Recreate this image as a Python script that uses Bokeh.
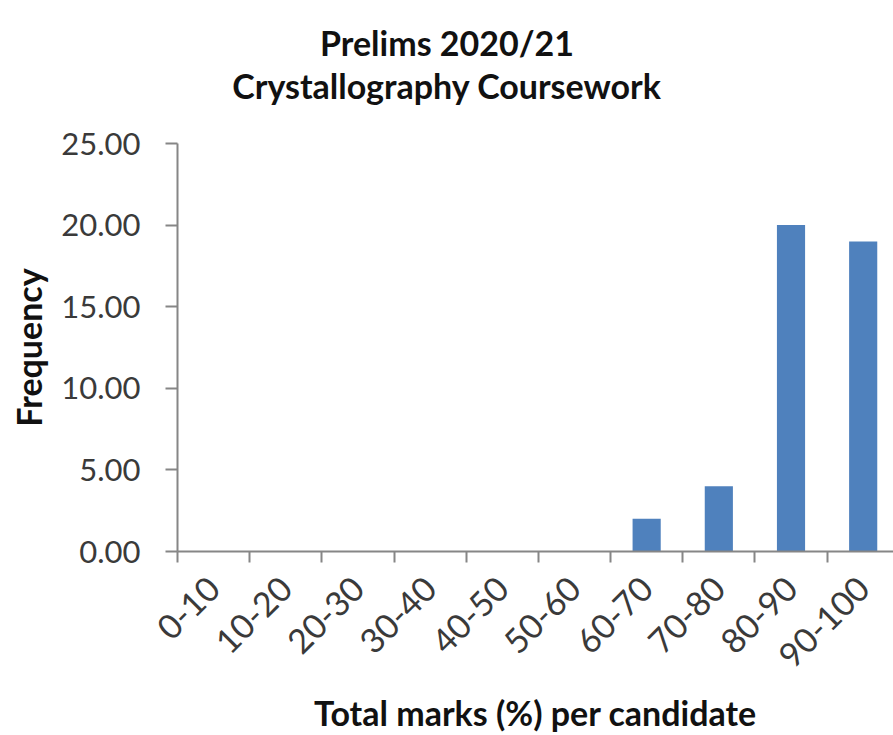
import numpy as np
from bokeh.plotting import figure
from bokeh.layouts import column
from bokeh.models import (ColumnDataSource, FixedTicker, Label, LinearAxis,
                          NumeralTickFormatter, Range1d)
from bokeh.embed import file_html
from bokeh.resources import INLINE

# ---- data -------------------------------------------------------------
categories = ["0-10", "10-20", "20-30", "30-40", "40-50",
              "50-60", "60-70", "70-80", "80-90", "90-100"]
frequency = [0, 0, 0, 0, 0, 0, 2, 4, 20, 19]
y_ticks = [0, 5, 10, 15, 20, 25]
title_lines = ["Prelims 2020/21", "Crystallography Coursework"]
x_title = "Total marks (%) per candidate"
y_title = "Frequency"

# ---- layout / style ---------------------------------------------------
W = 893
TITLE_H = 123             # height of the title strip
CHART_H = 612             # height of the chart below it
FRAME_LEFT = 177          # y axis position (frames in the column line up)
FONT = "Lato"
BAR = "#4F81BD"
AXIS_GREY = "#868686"
TICK_TEXT = "#3a3a3a"
TITLE_TEXT = "#111111"

# ---- title strip ------------------------------------------------------
head = figure(width=W, height=TITLE_H, output_backend="svg",
              toolbar_location=None, title_location=None,
              x_axis_location=None, y_axis_location=None,
              x_range=Range1d(0, 1), y_range=Range1d(0, 1),
              min_border=0)
head.outline_line_color = None
head.grid.visible = False
for line, baseline in zip(title_lines, [42, 85]):
    head.add_layout(Label(x=W / 2 - FRAME_LEFT, y=TITLE_H - baseline,
                          x_units="screen", y_units="screen",
                          text=line, text_align="center",
                          text_baseline="alphabetic",
                          text_font=FONT, text_font_style="bold",
                          text_font_size="34px", text_color=TITLE_TEXT))

# ---- chart ------------------------------------------------------------
pos = np.arange(len(categories))
source = ColumnDataSource(dict(x=pos, top=frequency, label=categories))

p = figure(width=W, height=CHART_H, output_backend="svg",
           toolbar_location=None, title_location=None,
           x_range=Range1d(-0.5, len(categories) - 0.58),
           y_range=Range1d(y_ticks[0], y_ticks[-1]),
           x_axis_location=None,
           min_border_left=FRAME_LEFT, min_border_right=0,
           min_border_top=20, min_border_bottom=182)
p.outline_line_color = None
p.grid.visible = False
p.background_fill_color = "white"
p.border_fill_color = "white"

p.vbar(x="x", top="top", width=0.39, source=source,
       fill_color=BAR, line_color=None)

# y axis
ya = p.yaxis[0]
ya.ticker = FixedTicker(ticks=y_ticks)
ya.formatter = NumeralTickFormatter(format="0.00")
ya.axis_line_color = AXIS_GREY
ya.axis_line_width = 2
ya.major_tick_line_color = AXIS_GREY
ya.major_tick_line_width = 2
ya.major_tick_in = 0
ya.major_tick_out = 12
ya.minor_tick_line_color = None
ya.major_label_text_font = FONT
ya.major_label_text_font_size = "31px"
ya.major_label_text_color = TICK_TEXT
ya.major_label_standoff = 25
ya.axis_label = y_title
ya.axis_label_text_font = FONT
ya.axis_label_text_font_style = "bold"
ya.axis_label_text_font_size = "34px"
ya.axis_label_text_color = TITLE_TEXT
ya.axis_label_standoff = 9

# x axis: labels at bar centres, ticks on category boundaries
boundaries = [float(b) for b in np.arange(len(categories) + 1) - 0.5]
xa = LinearAxis(
    ticker=FixedTicker(ticks=[int(i) for i in pos], minor_ticks=boundaries),
    major_label_overrides={int(i): c for i, c in zip(pos, categories)},
    major_label_orientation=np.pi / 4,
    major_label_text_font=FONT,
    major_label_text_font_size="34px",
    major_label_text_color=TICK_TEXT,
    major_label_standoff=20,
    major_tick_in=0, major_tick_out=0,
    major_tick_line_color=None,
    minor_tick_in=0, minor_tick_out=11,
    minor_tick_line_color=AXIS_GREY, minor_tick_line_width=2,
    axis_line_color=AXIS_GREY, axis_line_width=2,
    axis_label=x_title,
    axis_label_text_font=FONT,
    axis_label_text_font_style="bold",
    axis_label_text_font_size="34px",
    axis_label_text_color=TITLE_TEXT,
    axis_label_standoff=10,
)
p.add_layout(xa, "below")

page = column(head, p, spacing=0)
open("out.html", "w").write(file_html(page, INLINE))
